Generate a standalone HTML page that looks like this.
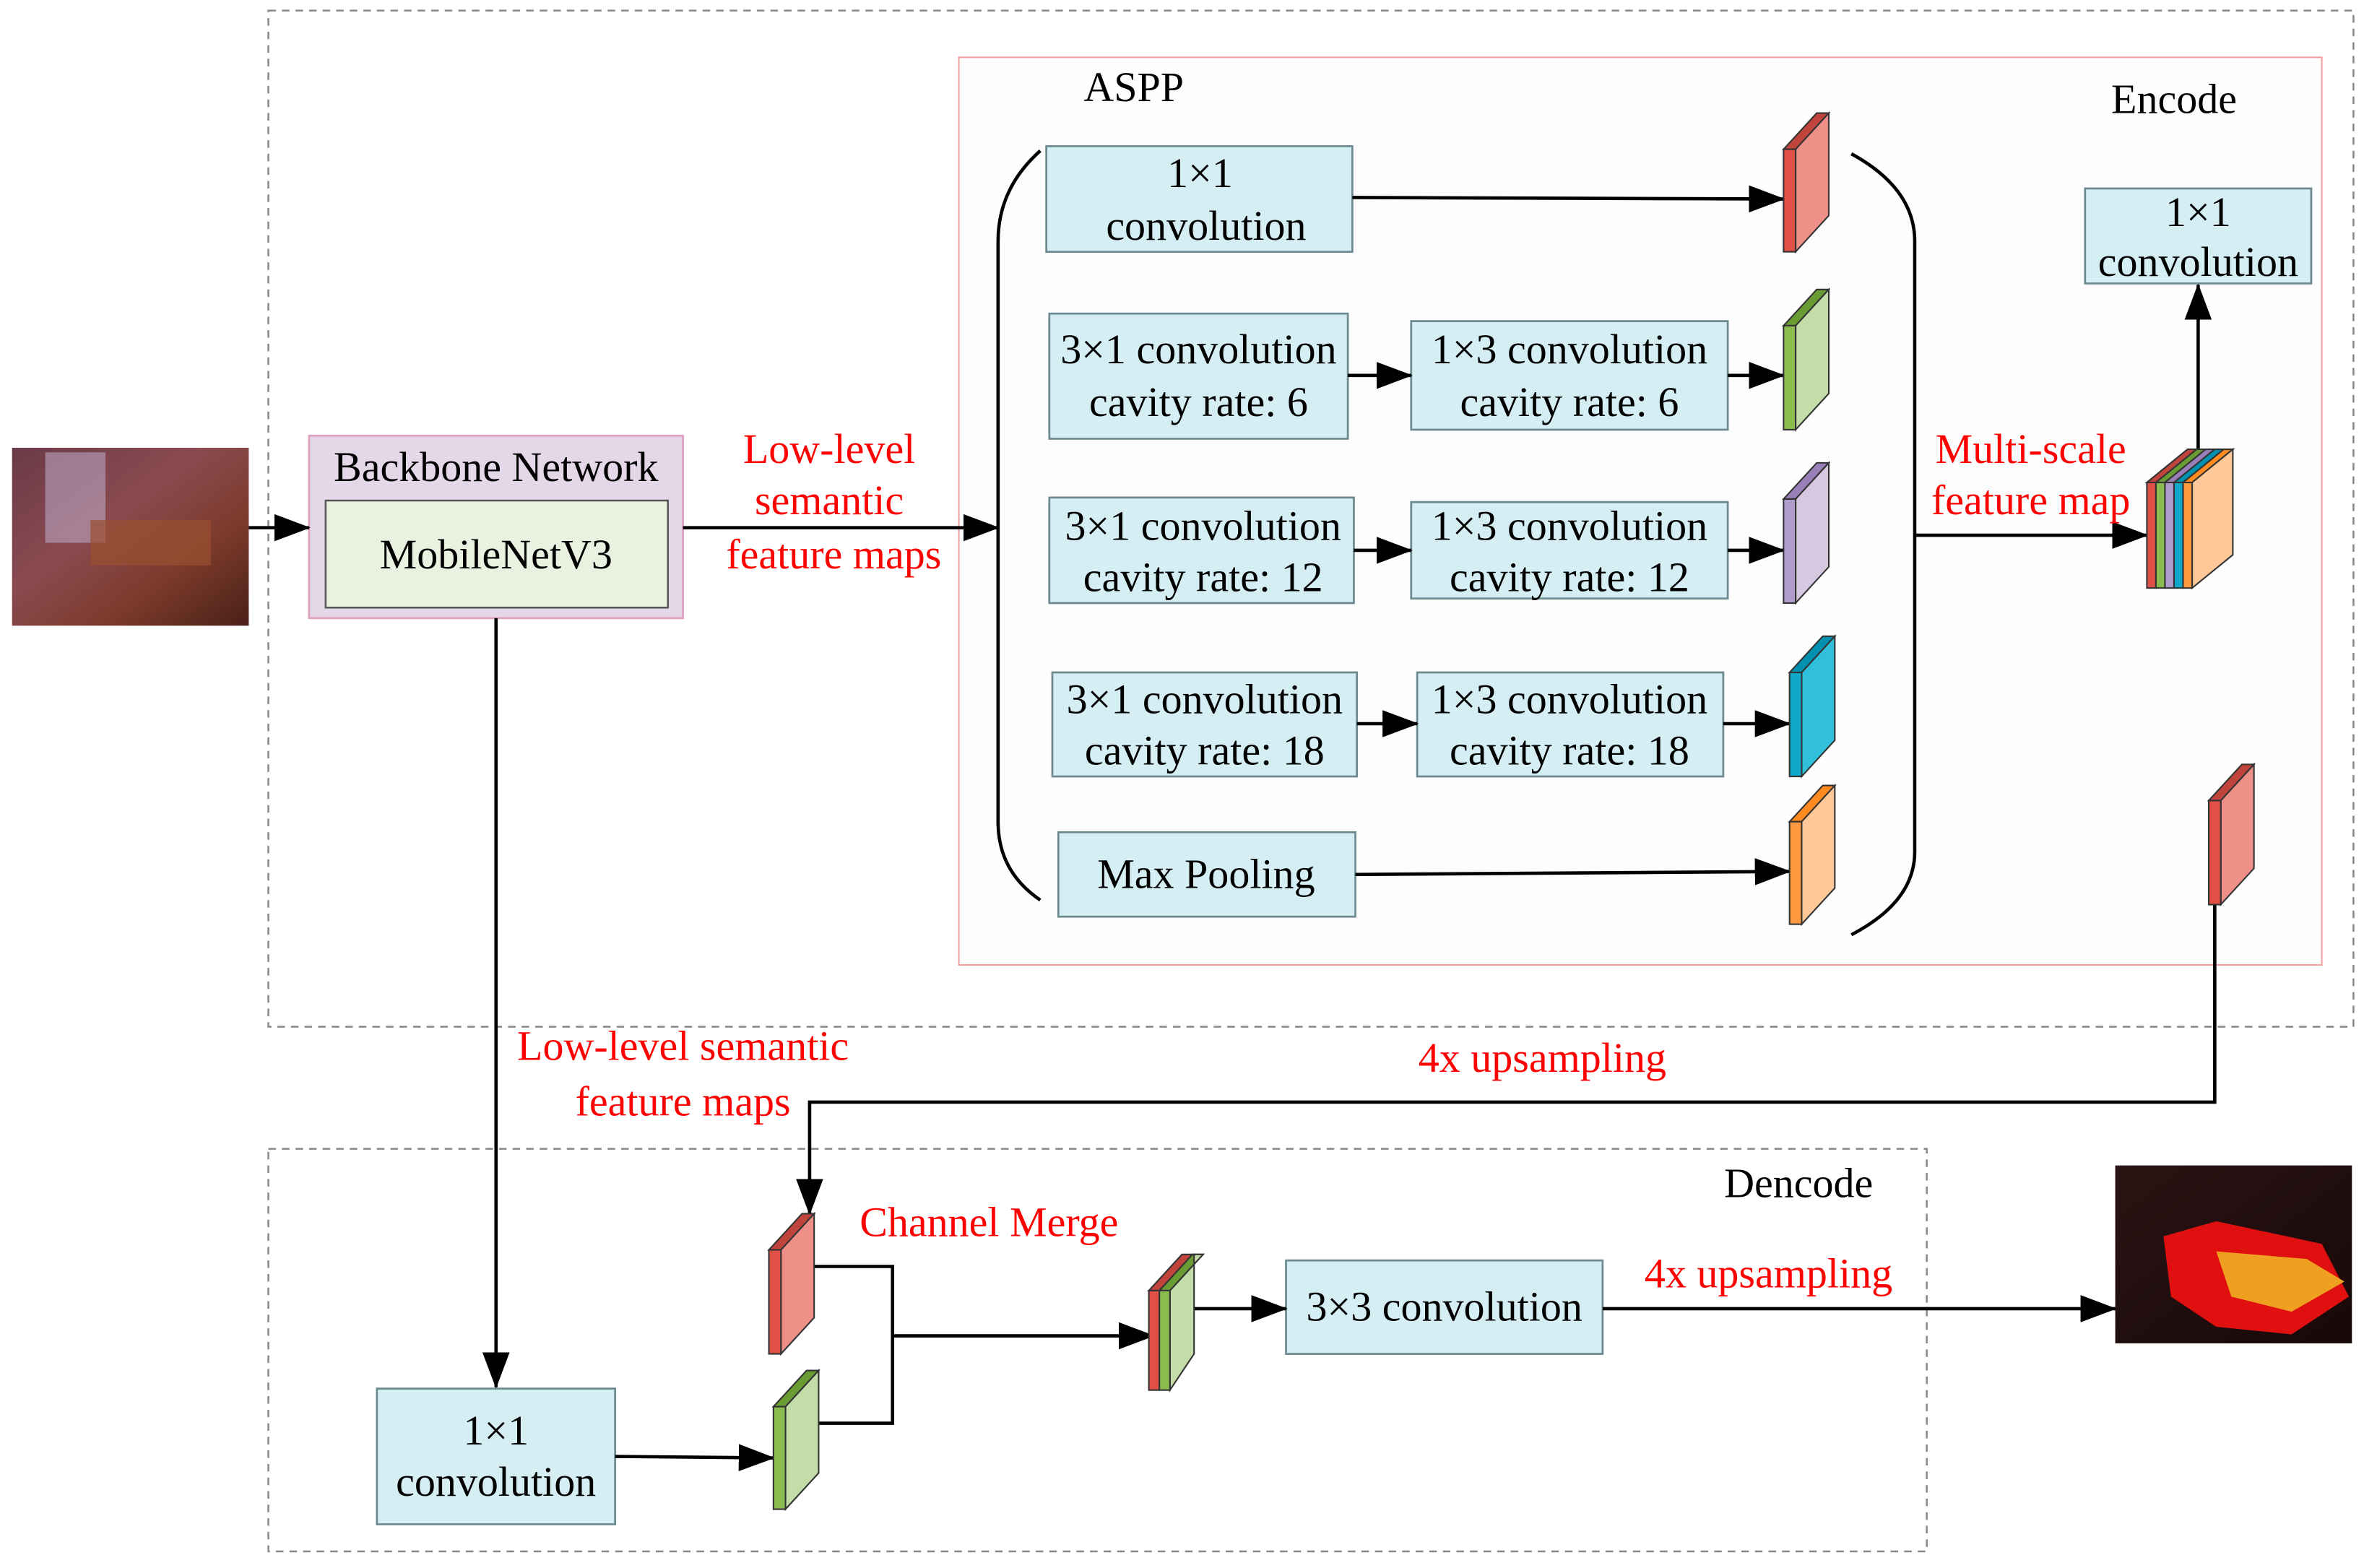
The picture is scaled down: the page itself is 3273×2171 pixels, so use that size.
<!DOCTYPE html>
<html><head><meta charset="utf-8"><style>
html,body{margin:0;padding:0;background:#fff}
svg{display:block}
text{font-family:"Liberation Serif",serif;font-size:27.8px}
.r{fill:#ff0000}
.b{fill:#d5eef4;stroke:#6a8a90;stroke-width:1.3}
.l{stroke:#000;stroke-width:2.2;fill:none}
</style></head><body>
<svg width="3273" height="2171" viewBox="0 0 1568 1040" preserveAspectRatio="none" xmlns="http://www.w3.org/2000/svg">
<defs>
<marker id="a" markerWidth="24" markerHeight="18" refX="23" refY="9" orient="auto" markerUnits="userSpaceOnUse" viewBox="0 0 24 18"><path d="M0,0 L24,9 L0,18z" fill="#000"/></marker>
<linearGradient id="p1" x1="0" y1="0" x2="1" y2="1"><stop offset="0" stop-color="#6a3a48"/><stop offset=".4" stop-color="#8a4a50"/><stop offset=".7" stop-color="#7a3a2a"/><stop offset="1" stop-color="#4a2018"/></linearGradient>
<linearGradient id="p2" x1="0" y1="0" x2="1" y2="1"><stop offset="0" stop-color="#2a1414"/><stop offset="1" stop-color="#180808"/></linearGradient>
</defs>
<rect width="1568" height="1040" fill="#fff"/>
<rect x="178" y="7" width="1383" height="674" fill="none" stroke="#888" stroke-width="1.2" stroke-dasharray="5,4"/>
<rect x="636" y="38" width="904" height="602" fill="#fdfdfd" stroke="#f3a0a0" stroke-width="1"/>
<rect x="178" y="762" width="1100" height="267" fill="none" stroke="#888" stroke-width="1.2" stroke-dasharray="5,4"/>

<rect x="8" y="297" width="157" height="118" fill="url(#p1)"/>
<rect x="30" y="300" width="40" height="60" fill="#c8b8d8" opacity=".5"/>
<rect x="60" y="345" width="80" height="30" fill="#9a5030" opacity=".7"/>
<rect x="1403" y="773" width="157" height="118" fill="url(#p2)"/>
<path d="M1435,820 L1470,810 L1540,825 L1558,860 L1520,885 L1470,880 L1440,860z" fill="#e01010"/>
<path d="M1470,830 L1530,835 L1555,850 L1520,870 L1480,860z" fill="#f0a020"/>

<rect x="205" y="289" width="248" height="121" fill="#e4d8e8" stroke="#e0a0c0" stroke-width="1.3"/>
<rect x="216" y="332" width="227" height="71" fill="#e9f1e1" stroke="#555" stroke-width="1.2"/>
<text x="329" y="319" text-anchor="middle">Backbone Network</text>
<text x="329" y="377" text-anchor="middle">MobileNetV3</text>

<rect class="b" x="694" y="97" width="203" height="70"/>
<text x="796" y="124" text-anchor="middle">1×1</text><text x="800" y="159" text-anchor="middle">convolution</text>
<rect class="b" x="696" y="208" width="198" height="83"/>
<text x="795" y="241" text-anchor="middle">3×1 convolution</text><text x="795" y="276" text-anchor="middle">cavity rate: 6</text>
<rect class="b" x="936" y="213" width="210" height="72"/>
<text x="1041" y="241" text-anchor="middle">1×3 convolution</text><text x="1041" y="276" text-anchor="middle">cavity rate: 6</text>
<rect class="b" x="696" y="330" width="202" height="70"/>
<text x="798" y="358" text-anchor="middle">3×1 convolution</text><text x="798" y="392" text-anchor="middle">cavity rate: 12</text>
<rect class="b" x="936" y="333" width="210" height="64"/>
<text x="1041" y="358" text-anchor="middle">1×3 convolution</text><text x="1041" y="392" text-anchor="middle">cavity rate: 12</text>
<rect class="b" x="698" y="446" width="202" height="69"/>
<text x="799" y="473" text-anchor="middle">3×1 convolution</text><text x="799" y="507" text-anchor="middle">cavity rate: 18</text>
<rect class="b" x="940" y="446" width="203" height="69"/>
<text x="1041" y="473" text-anchor="middle">1×3 convolution</text><text x="1041" y="507" text-anchor="middle">cavity rate: 18</text>
<rect class="b" x="702" y="552" width="197" height="56"/>
<text x="800" y="589" text-anchor="middle">Max Pooling</text>
<rect class="b" x="1383" y="125" width="150" height="63"/>
<text x="1458" y="150" text-anchor="middle">1×1</text><text x="1458" y="183" text-anchor="middle">convolution</text>
<rect class="b" x="853" y="836" width="210" height="62"/>
<text x="958" y="876" text-anchor="middle">3×3 convolution</text>
<rect class="b" x="250" y="921" width="158" height="90"/>
<text x="329" y="958" text-anchor="middle">1×1</text><text x="329" y="992" text-anchor="middle">convolution</text>

<path class="l" d="M690,100 Q662,125 662,160 L662,545 Q662,578 690,597" stroke-width="2.5"/>
<path class="l" d="M1228,102 Q1270,125 1270,160 L1270,565 Q1270,598 1228,620" stroke-width="2.5"/>

<g class="l" marker-end="url(#a)">
<line x1="165" y1="350" x2="205" y2="350"/>
<line x1="453" y1="350" x2="662" y2="350"/>
<line x1="897" y1="131" x2="1183" y2="132"/>
<line x1="894" y1="249" x2="936" y2="249"/>
<line x1="1146" y1="249" x2="1183" y2="249"/>
<line x1="898" y1="365" x2="936" y2="365"/>
<line x1="1146" y1="365" x2="1183" y2="365"/>
<line x1="900" y1="480" x2="940" y2="480"/>
<line x1="1143" y1="480" x2="1187" y2="480"/>
<line x1="899" y1="580" x2="1187" y2="578"/>
<line x1="1270" y1="355" x2="1424" y2="355"/>
<line x1="1458" y1="298" x2="1458" y2="189"/>
<polyline points="1469,600 1469,731 537,731 537,805"/>
<line x1="329" y1="410" x2="329" y2="920"/>
<line x1="408" y1="966" x2="513" y2="967"/>
<line x1="592" y1="886" x2="765" y2="886"/>
<line x1="792" y1="868" x2="853" y2="868"/>
<line x1="1063" y1="868" x2="1403" y2="868"/>
</g>
<polyline class="l" points="540,840 592,840 592,944 543,944"/>

<g stroke="#333" stroke-width="1">
<polygon points="1183,99 1191,99 1213,75 1205,75" fill="#c0443c"/><polygon points="1191,99 1213,75 1213,143 1191,167" fill="#ef9088"/><rect x="1183" y="99" width="8" height="68" fill="#e05045"/>
<polygon points="1183,216 1191,216 1213,192 1205,192" fill="#6a9c34"/><polygon points="1191,216 1213,192 1213,261 1191,285" fill="#c4dca8"/><rect x="1183" y="216" width="8" height="69" fill="#8cbc50"/>
<polygon points="1183,331 1191,331 1213,307 1205,307" fill="#9a80b8"/><polygon points="1191,331 1213,307 1213,376 1191,400" fill="#d6c8e0"/><rect x="1183" y="331" width="8" height="69" fill="#b09ccc"/>
<polygon points="1187,446 1195,446 1217,422 1209,422" fill="#0090b0"/><polygon points="1195,446 1217,422 1217,491 1195,515" fill="#30c0dc"/><rect x="1187" y="446" width="8" height="69" fill="#10a8c8"/>
<polygon points="1187,545 1195,545 1217,521 1209,521" fill="#ff8a20"/><polygon points="1195,545 1217,521 1217,589 1195,613" fill="#ffc898"/><rect x="1187" y="545" width="8" height="68" fill="#ff9a40"/>
<polygon points="1465,531 1473,531 1495,507 1487,507" fill="#c0443c"/><polygon points="1473,531 1495,507 1495,576 1473,600" fill="#ef9088"/><rect x="1465" y="531" width="8" height="69" fill="#e05045"/>
<polygon points="510,829 518,829 540,805 532,805" fill="#c0443c"/><polygon points="518,829 540,805 540,874 518,898" fill="#ef9088"/><rect x="510" y="829" width="8" height="69" fill="#e05045"/>
<polygon points="513,933 521,933 543,909 535,909" fill="#6a9c34"/><polygon points="521,933 543,909 543,977 521,1001" fill="#c4dca8"/><rect x="513" y="933" width="8" height="68" fill="#8cbc50"/>
<polygon points="762,856 769,856 791,832 784,832" fill="#c0443c"/>
<polygon points="769,856 776,856 798,832 791,832" fill="#6a9c34"/>
<polygon points="776,856 798,832 792,832 792,898 776,922" fill="#c4dca8"/>
<rect x="762" y="856" width="7" height="66" fill="#e05045"/><rect x="769" y="856" width="7" height="66" fill="#8cbc50"/>
<polygon points="1424,320 1454,320 1481,298 1451,298" fill="#888"/>
<polygon points="1424,320 1430,320 1457,298 1451,298" fill="#c0443c"/>
<polygon points="1430,320 1436,320 1463,298 1457,298" fill="#6a9c34"/>
<polygon points="1436,320 1442,320 1469,298 1463,298" fill="#9a80b8"/>
<polygon points="1442,320 1448,320 1475,298 1469,298" fill="#0090b0"/>
<polygon points="1448,320 1454,320 1481,298 1475,298" fill="#ff8a20"/>
<polygon points="1454,320 1481,298 1481,368 1454,390" fill="#ffc898"/>
<rect x="1424" y="320" width="6" height="70" fill="#e05045"/><rect x="1430" y="320" width="6" height="70" fill="#8cbc50"/><rect x="1436" y="320" width="6" height="70" fill="#b09ccc"/><rect x="1442" y="320" width="6" height="70" fill="#10a8c8"/><rect x="1448" y="320" width="6" height="70" fill="#ff9a40"/>
</g>

<text x="752" y="67" text-anchor="middle">ASPP</text>
<text x="1442" y="75" text-anchor="middle">Encode</text>
<text x="1193" y="794" text-anchor="middle">Dencode</text>
<g class="r" text-anchor="middle">
<text x="550" y="307">Low-level</text><text x="550" y="341">semantic</text><text x="553" y="377">feature maps</text>
<text x="1347" y="307">Multi-scale</text><text x="1347" y="341">feature map</text>
<text x="453" y="703">Low-level semantic</text><text x="453" y="740">feature maps</text>
<text x="1023" y="711">4x upsampling</text>
<text x="656" y="820">Channel Merge</text>
<text x="1173" y="854">4x upsampling</text>
</g>
</svg>
</body></html>
